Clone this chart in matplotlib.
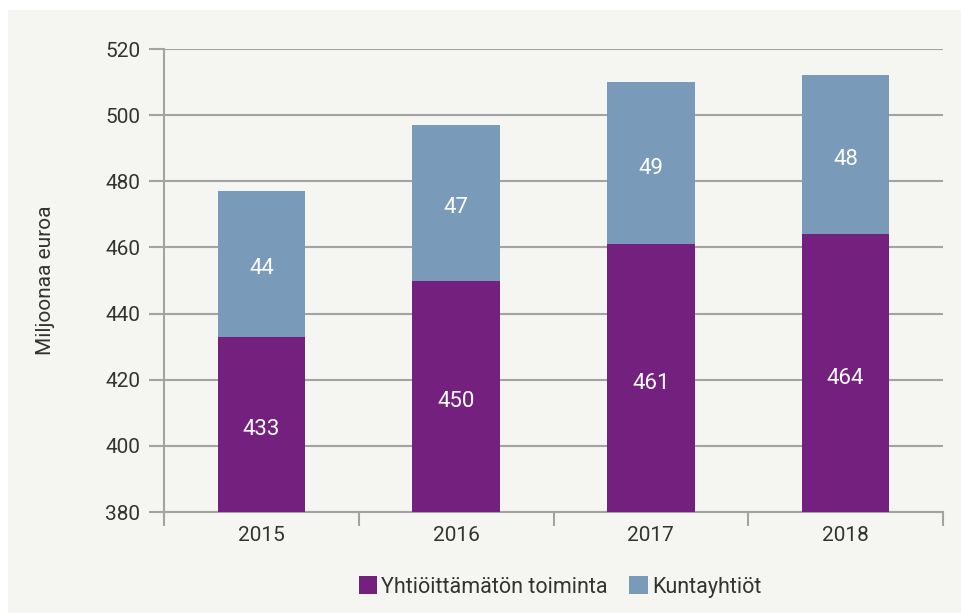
import numpy as np
import matplotlib.pyplot as plt
from matplotlib.patches import Rectangle

plt.rcParams['font.family'] = ['Roboto', 'DejaVu Sans']

# data
years = ['2015', '2016', '2017', '2018']
yhtioittamaton = [433, 450, 461, 464]
kuntayhtiot = [44, 47, 49, 48]

c_purple = '#74207f'
c_blue = '#7a9aba'
c_grid = '#a3a3a3'
c_text = '#333333'

fig = plt.figure(figsize=(9.62, 6.13), dpi=100)
fig.patch.set_facecolor('white')
fig.patches.append(Rectangle((8 / 962, 0), 1, (613 - 10) / 613,
                             transform=fig.transFigure, facecolor='#f5f5f1',
                             edgecolor='none', zorder=-10))

ax = fig.add_axes([164 / 962, (613 - 512) / 613, (943 - 164) / 962, (512 - 49) / 613])
ax.set_facecolor('none')

x = np.arange(len(years))
base = 380
b1 = ax.bar(x, np.array(yhtioittamaton) - base, bottom=base, width=0.45,
            color=c_purple, label='Yhtiöittämätön toiminta', zorder=3)
b2 = ax.bar(x, kuntayhtiot, bottom=yhtioittamaton, width=0.45,
            color=c_blue, label='Kuntayhtiöt', zorder=3)

for i in range(len(years)):
    ax.text(x[i], (base + yhtioittamaton[i]) / 2 - 1.5, str(yhtioittamaton[i]),
            ha='center', va='center', color='white', fontsize=16, zorder=4)
    ax.text(x[i], yhtioittamaton[i] + kuntayhtiot[i] / 2 - 1.5, str(kuntayhtiot[i]),
            ha='center', va='center', color='white', fontsize=16, zorder=4)

ax.set_xlim(-0.5, 3.5)
ax.set_ylim(380, 520)
ax.set_yticks(np.arange(380, 521, 20))
ax.set_xticks(x)
ax.set_xticklabels(years)
ax.set_xticks(np.arange(-0.5, 3.6, 1), minor=True)

ax.grid(axis='y', color=c_grid, linewidth=1.5, zorder=0)
for s in ['top', 'right']:
    ax.spines[s].set_visible(False)
for s in ['left', 'bottom']:
    ax.spines[s].set_color(c_grid)
    ax.spines[s].set_linewidth(1.5)

ax.tick_params(axis='y', length=11, width=1.5, color=c_grid, labelsize=15,
               labelcolor=c_text, pad=6)
ax.tick_params(axis='x', which='major', length=0, labelsize=15,
               labelcolor=c_text, pad=10)
ax.tick_params(axis='x', which='minor', length=10, width=1.5, color=c_grid)

ax.set_ylabel('Miljoonaa euroa', fontsize=15, color=c_text, labelpad=36)

fig.legend(handles=[b1, b2], loc='center', bbox_to_anchor=(560 / 962, 1 - 587 / 613),
           ncol=2, frameon=False, fontsize=15.5, handlelength=0.85, handleheight=0.85,
           handletextpad=0.2, columnspacing=1.0, labelcolor=c_text)

fig.savefig('out.png', dpi=100, facecolor=fig.get_facecolor())
